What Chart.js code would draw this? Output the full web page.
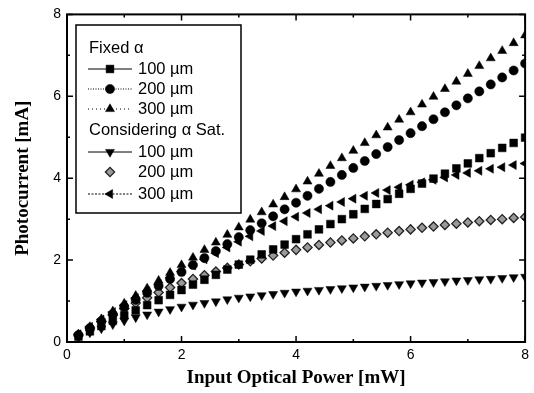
<!DOCTYPE html>
<html>
<head>
<meta charset="utf-8">
<script src="https://cdn.jsdelivr.net/npm/chart.js@4.4.0/dist/chart.umd.min.js"></script>
<style>
  html, body { margin: 0; padding: 0; background: #fff; }
</style>
</head>
<body>
<canvas id="c" width="534" height="393"></canvas>
<script>
// input optical power [mW]
const power = [0.2, 0.4, 0.6, 0.8, 1.0, 1.2, 1.4, 1.6, 1.8, 2.0,
               2.2, 2.4, 2.6, 2.8, 3.0, 3.2, 3.4, 3.6, 3.8, 4.0,
               4.2, 4.4, 4.6, 4.8, 5.0, 5.2, 5.4, 5.6, 5.8, 6.0,
               6.2, 6.4, 6.6, 6.8, 7.0, 7.2, 7.4, 7.6, 7.8, 8.0];

// photocurrent [mA], fixed alpha
const fixed100 = [0.13, 0.26, 0.39, 0.52, 0.65, 0.77, 0.90, 1.02, 1.15, 1.27,
                  1.40, 1.52, 1.64, 1.77, 1.89, 2.01, 2.14, 2.26, 2.38, 2.51,
                  2.63, 2.75, 2.88, 3.00, 3.12, 3.25, 3.37, 3.49, 3.62, 3.74,
                  3.87, 3.99, 4.11, 4.24, 4.36, 4.49, 4.61, 4.74, 4.86, 4.99];
const fixed200 = [0.17, 0.34, 0.51, 0.68, 0.86, 1.03, 1.20, 1.37, 1.54, 1.71,
                  1.88, 2.05, 2.22, 2.39, 2.56, 2.73, 2.90, 3.07, 3.24, 3.40,
                  3.57, 3.74, 3.91, 4.08, 4.25, 4.42, 4.59, 4.76, 4.93, 5.10,
                  5.27, 5.44, 5.61, 5.78, 5.95, 6.12, 6.29, 6.46, 6.63, 6.80];
const fixed300 = [0.19, 0.37, 0.56, 0.75, 0.94, 1.13, 1.31, 1.50, 1.69, 1.88,
                  2.06, 2.25, 2.43, 2.62, 2.80, 2.99, 3.17, 3.36, 3.54, 3.73,
                  3.92, 4.11, 4.30, 4.49, 4.67, 4.86, 5.05, 5.24, 5.43, 5.61,
                  5.80, 5.99, 6.18, 6.36, 6.55, 6.74, 6.93, 7.11, 7.30, 7.49];

// photocurrent [mA], considering alpha saturation
const sat100 = [0.12, 0.23, 0.33, 0.43, 0.52, 0.60, 0.67, 0.74, 0.80, 0.86,
                0.91, 0.95, 0.99, 1.04, 1.08, 1.11, 1.14, 1.17, 1.20, 1.23,
                1.25, 1.27, 1.29, 1.31, 1.33, 1.35, 1.37, 1.39, 1.41, 1.43,
                1.45, 1.46, 1.48, 1.50, 1.51, 1.53, 1.54, 1.56, 1.58, 1.59];
const sat200 = [0.17, 0.34, 0.50, 0.66, 0.81, 0.95, 1.08, 1.21, 1.33, 1.44,
                1.54, 1.63, 1.72, 1.81, 1.89, 1.97, 2.04, 2.11, 2.18, 2.25,
                2.31, 2.37, 2.43, 2.48, 2.53, 2.58, 2.63, 2.67, 2.71, 2.75,
                2.79, 2.82, 2.86, 2.89, 2.92, 2.95, 2.98, 3.00, 3.03, 3.05];
const sat300 = [0.19, 0.37, 0.55, 0.73, 0.90, 1.07, 1.24, 1.41, 1.57, 1.72,
                1.87, 2.02, 2.17, 2.31, 2.45, 2.58, 2.71, 2.83, 2.95, 3.06,
                3.15, 3.24, 3.33, 3.42, 3.50, 3.57, 3.64, 3.71, 3.78, 3.84,
                3.90, 3.96, 4.02, 4.08, 4.13, 4.18, 4.23, 4.27, 4.32, 4.36];

const xTicks = [0, 2, 4, 6, 8];
const yTicks = [0, 2, 4, 6, 8];
const minorTicks = [1, 3, 5, 7];

const pts = arr => arr.map((v, i) => ({x: power[i], y: v}));

// marker style for each series, also used in the legend
const series = [
  {label: '100 \u00b5m', data: fixed100, style: 'rect', rot: 0, r: 5.5, fill: '#000', line: []},
  {label: '200 \u00b5m', data: fixed200, style: 'circle', rot: 0, r: 4.6, fill: '#000', line: [1, 1.5]},
  {label: '300 \u00b5m', data: fixed300, style: 'triangle', rot: 0, r: 5.2, fill: '#000', line: [1, 3]},
  {label: '100 \u00b5m', data: sat100, style: 'triangle', rot: 180, r: 5.2, fill: '#000', line: []},
  {label: '200 \u00b5m', data: sat200, style: 'rectRot', rot: 0, r: 4.6, fill: '#9a9a9a', line: null},
  {label: '300 \u00b5m', data: sat300, style: 'triangle', rot: 270, r: 5.2, fill: '#000', line: [2, 1.5]}
];

const datasets = series.map(s => ({
  label: s.label,
  data: pts(s.data),
  showLine: false,
  pointStyle: s.style,
  rotation: s.rot,
  pointRadius: s.r,
  pointBackgroundColor: s.fill,
  pointBorderColor: s.style === 'rectRot' ? '#222' : '#000',
  pointBorderWidth: s.style === 'rectRot' ? 1.3 : 0.5
}));

function mark(ctx, s, x, y) {
  ctx.fillStyle = s.fill;
  ctx.strokeStyle = s.style === 'rectRot' ? '#222' : '#000';
  ctx.lineWidth = s.style === 'rectRot' ? 1.3 : 0.5;
  Chart.helpers.drawPoint(ctx, {pointStyle: s.style, rotation: s.rot, radius: s.r, borderWidth: ctx.lineWidth}, x, y);
}

// box frame with inward ticks on all four sides
const frame = {
  id: 'frame',
  afterDatasetsDraw(chart) {
    const {ctx, chartArea: a, scales: {x, y}} = chart;
    ctx.save();
    ctx.strokeStyle = '#000';
    ctx.lineWidth = 2;
    ctx.strokeRect(a.left, a.top, a.right - a.left, a.bottom - a.top);
    ctx.lineWidth = 1.5;
    const tk = (v, len) => {
      const px = x.getPixelForValue(v), py = y.getPixelForValue(v);
      ctx.beginPath();
      ctx.moveTo(px, a.bottom); ctx.lineTo(px, a.bottom - len);
      ctx.moveTo(px, a.top); ctx.lineTo(px, a.top + len);
      ctx.moveTo(a.left, py); ctx.lineTo(a.left + len, py);
      ctx.moveTo(a.right, py); ctx.lineTo(a.right - len, py);
      ctx.stroke();
    };
    xTicks.forEach(v => tk(v, 6));
    minorTicks.forEach(v => tk(v, 3));
    ctx.restore();
  }
};

// legend with two group headers
const legendBox = {
  id: 'legendBox',
  afterDraw(chart) {
    const ctx = chart.ctx;
    const left = 76, top = 25, w = 165, h = 188;
    ctx.save();
    ctx.fillStyle = '#fff';
    ctx.fillRect(left, top, w, h);
    ctx.strokeStyle = '#000';
    ctx.lineWidth = 1.5;
    ctx.strokeRect(left, top, w, h);
    ctx.font = '16.5px "Liberation Sans", Arial, sans-serif';
    ctx.textBaseline = 'middle';
    ctx.fillStyle = '#000';
    ctx.fillText('Fixed \u03b1', 89, 48);
    ctx.fillText('Considering \u03b1 Sat.', 89, 130);
    const rows = [69, 89, 109, 152, 172, 194];
    series.forEach((s, i) => {
      const yy = rows[i];
      if (s.line) {
        ctx.save();
        ctx.strokeStyle = '#000';
        ctx.lineWidth = 1;
        ctx.setLineDash(s.line);
        ctx.beginPath();
        ctx.moveTo(88, yy); ctx.lineTo(132, yy);
        ctx.stroke();
        ctx.restore();
      }
      ctx.save();
      mark(ctx, s, 110, yy);
      ctx.restore();
      ctx.fillStyle = '#000';
      ctx.fillText(s.label, 138, yy);
    });
    ctx.restore();
  }
};

new Chart(document.getElementById('c'), {
  type: 'scatter',
  data: {datasets},
  options: {
    responsive: false,
    animation: false,
    devicePixelRatio: 1,
    layout: {padding: {top: 14, right: 5, left: 0, bottom: 0}},
    plugins: {legend: {display: false}, tooltip: {enabled: false}},
    scales: {
      x: {
        type: 'linear', min: 0, max: 8,
        grid: {display: false, drawTicks: false},
        border: {display: false},
        afterBuildTicks: s => { s.ticks = xTicks.map(v => ({value: v})); },
        afterFit: s => { s.height = 51; },
        ticks: {padding: 5, color: '#000', font: {family: '"Liberation Sans", Arial, sans-serif', size: 14}},
        title: {display: true, text: 'Input Optical Power [mW]', color: '#000', padding: {top: 4, bottom: 4},
                font: {family: '"Liberation Serif", "Times New Roman", serif', size: 19, weight: 'bold'}}
      },
      y: {
        type: 'linear', min: 0, max: 8,
        grid: {display: false, drawTicks: false},
        border: {display: false},
        afterBuildTicks: s => { s.ticks = yTicks.map(v => ({value: v})); },
        afterFit: s => { s.width = 67; },
        ticks: {padding: 6, color: '#000', font: {family: '"Liberation Sans", Arial, sans-serif', size: 14}},
        title: {display: true, text: 'Photocurrent [mA]', color: '#000', padding: {top: 12, bottom: 4},
                font: {family: '"Liberation Serif", "Times New Roman", serif', size: 19, weight: 'bold'}}
      }
    }
  },
  plugins: [frame, legendBox]
});
</script>
</body>
</html>
